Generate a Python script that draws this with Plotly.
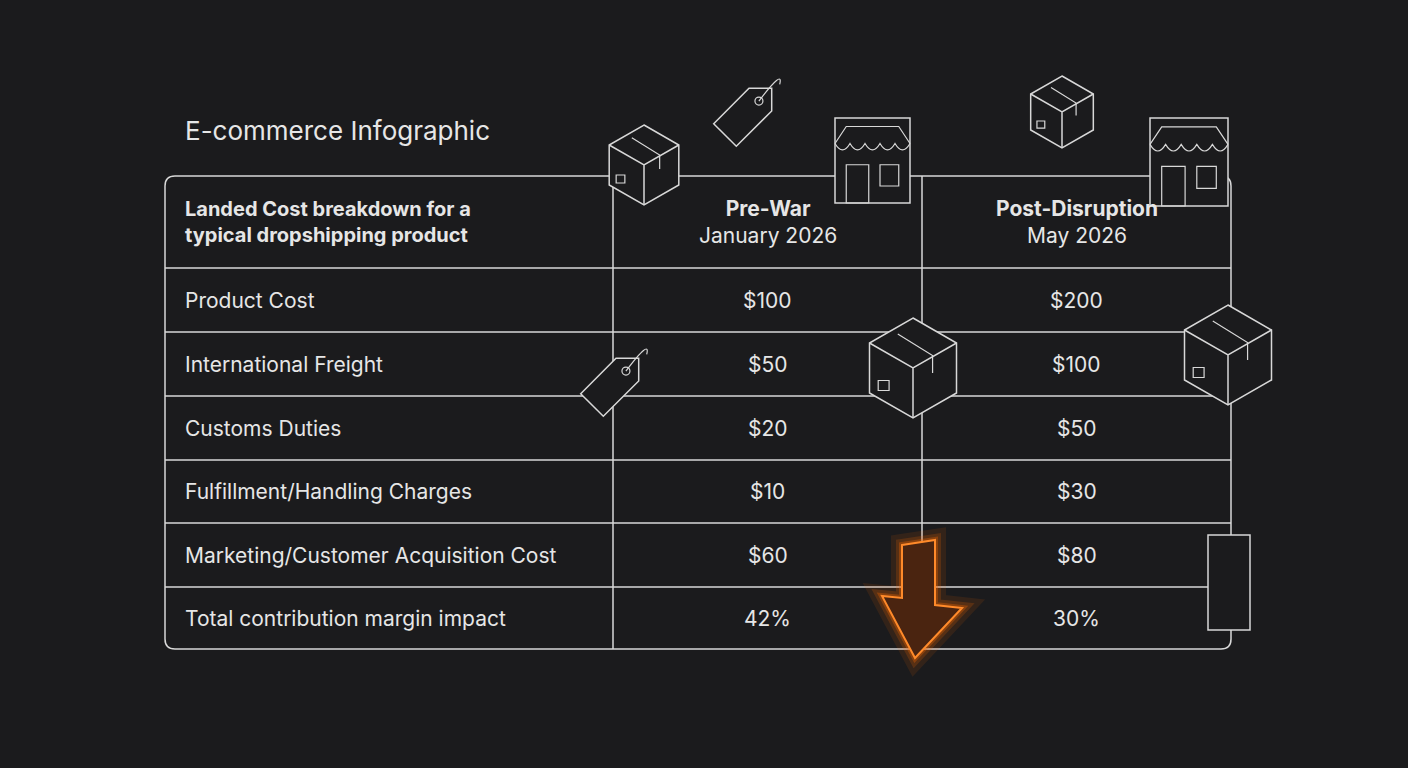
import math
import plotly.graph_objects as go

title = "E-commerce Infographic"
header_label = "<b>Landed Cost breakdown for a<br>typical dropshipping product</b>"
col_heads = ["<b>Pre-War</b><br>January 2026", "<b>Post-Disruption</b><br>May 2026"]
rows = ["Product Cost", "International Freight", "Customs Duties",
        "Fulfillment/Handling Charges", "Marketing/Customer Acquisition Cost",
        "Total contribution margin impact"]
pre = ["$100", "$50", "$20", "$10", "$60", "42%"]
post = ["$200", "$100", "$50", "$30", "$80", "30%"]

BG = "#1b1b1d"
LINE = "#d8d8d8"
TXT = "#e6e6e6"
L, R, T, B = 165, 1231, 176, 649
cols = [L, 613, 922, R]
ys = [T, 268, 332, 396, 460, 523, 587, B]

fig = go.Figure(go.Scatter(x=[0], y=[0], mode="markers", marker=dict(opacity=0), hoverinfo="skip"))
shapes = []
r = 10
shapes.append(dict(type="path", line=dict(color=LINE, width=1.5),
    path=f"M{L+r},{T} L{R-r},{T} Q{R},{T} {R},{T+r} L{R},{B-r} Q{R},{B} {R-r},{B} "
         f"L{L+r},{B} Q{L},{B} {L},{B-r} L{L},{T+r} Q{L},{T} {L+r},{T} Z"))
for y in ys[1:-1]:
    shapes.append(dict(type="line", x0=L, x1=R, y0=y, y1=y, line=dict(color=LINE, width=1.5)))
for x in cols[1:-1]:
    shapes.append(dict(type="line", x0=x, x1=x, y0=T, y1=B, line=dict(color=LINE, width=1.5)))

def cube(cx, cy, s):
    k = 0.87 * s
    pts = [(cx, cy - s), (cx + k, cy - s / 2), (cx + k, cy + s / 2), (cx, cy + s),
           (cx - k, cy + s / 2), (cx - k, cy - s / 2)]
    p = "M" + " L".join(f"{a},{b}" for a, b in pts) + " Z"
    shapes.append(dict(type="path", path=p, fillcolor=BG, line=dict(color=LINE, width=1.5)))
    shapes.append(dict(type="path", path=f"M{cx-k},{cy-s/2} L{cx},{cy} L{cx+k},{cy-s/2} M{cx},{cy} L{cx},{cy+s}",
                       line=dict(color=LINE, width=1.5)))
    shapes.append(dict(type="path", path=f"M{cx-k*0.35},{cy-s*0.68} L{cx+k*0.45},{cy-s*0.25} L{cx+k*0.45},{cy+s*0.1}",
                       line=dict(color=LINE, width=1.2)))
    shapes.append(dict(type="rect", x0=cx - k * 0.8, x1=cx - k * 0.55, y0=cy + s * 0.25, y1=cy + s * 0.45,
                       line=dict(color=LINE, width=1.2)))

def tag(x, y, length, h, ang_deg):
    a = math.radians(ang_deg)
    ux, uy = math.cos(a), -math.sin(a)
    vx, vy = -uy, ux
    loc = [(0, -h / 2), (length, -h / 2), (length + h * 0.5, 0), (length, h / 2), (0, h / 2)]
    pts = [(x + u * ux + v * vx, y + u * uy + v * vy) for u, v in loc]
    p = "M" + " L".join(f"{px:.1f},{py:.1f}" for px, py in pts) + " Z"
    shapes.append(dict(type="path", path=p, fillcolor=BG, line=dict(color=LINE, width=1.5)))
    hx, hy = x + (length - 2) * ux, y + (length - 2) * uy
    shapes.append(dict(type="circle", x0=hx - 4, x1=hx + 4, y0=hy - 4, y1=hy + 4, line=dict(color=LINE, width=1.2)))
    ex, ey = x + (length + h * 0.5) * ux, y + (length + h * 0.5) * uy
    shapes.append(dict(type="path", path=f"M{hx:.1f},{hy:.1f} Q{ex+12:.1f},{ey-20:.1f} {ex+8:.1f},{ey-4:.1f}",
                       line=dict(color=LINE, width=1.2)))

def store(x, y, w, h):
    shapes.append(dict(type="rect", x0=x, x1=x + w, y0=y, y1=y + h, fillcolor=BG, line=dict(color=LINE, width=1.5)))
    aw = w / 5
    scallop = f"M{x},{y+h*0.3}" + "".join(
        f" Q{x+aw*i+aw/2},{y+h*0.45} {x+aw*(i+1)},{y+h*0.3}" for i in range(5))
    shapes.append(dict(type="path", path=scallop + f" M{x},{y+h*0.3} L{x+w*0.15},{y+h*0.1} L{x+w*0.85},{y+h*0.1} L{x+w},{y+h*0.3}",
                       line=dict(color=LINE, width=1.2)))
    shapes.append(dict(type="rect", x0=x + w * 0.15, x1=x + w * 0.45, y0=y + h * 0.55, y1=y + h, line=dict(color=LINE, width=1.2)))
    shapes.append(dict(type="rect", x0=x + w * 0.6, x1=x + w * 0.85, y0=y + h * 0.55, y1=y + h * 0.8, line=dict(color=LINE, width=1.2)))

cube(644, 165, 40)
cube(1062, 112, 36)
cube(913, 368, 50)
cube(1228, 355, 50)
store(835, 118, 75, 85)
store(1150, 118, 78, 88)
tag(725, 135, 50, 32, 45)
tag(592, 405, 50, 32, 45)
shapes.append(dict(type="rect", x0=1208, x1=1250, y0=535, y1=630, fillcolor=BG, line=dict(color=LINE, width=1.5)))

# orange arrow with glow
arrow = "M902,545 L935,540 L935,605 L962,608 L915,658 L882,596 L902,598 Z"
for w, op in [(22, 0.10), (12, 0.18), (6, 0.3)]:
    shapes.append(dict(type="path", path=arrow, line=dict(color="#ff6a00", width=w), opacity=op))
shapes.append(dict(type="path", path=arrow, fillcolor="#4a2410", line=dict(color="#ff8a2a", width=2)))

ann = [dict(x=183, y=130, text=title, xanchor="left", font=dict(size=26, color=TXT))]
ann.append(dict(x=183, y=222, text=header_label, xanchor="left", align="left", font=dict(size=20, color=TXT)))
for i, h in enumerate(col_heads):
    ann.append(dict(x=(cols[i + 1] + cols[i + 2]) / 2, y=222, text=h, font=dict(size=21, color=TXT)))
for i, lab in enumerate(rows):
    yc = (ys[i + 1] + ys[i + 2]) / 2
    ann.append(dict(x=183, y=yc, text=lab, xanchor="left", font=dict(size=21, color=TXT)))
    ann.append(dict(x=(cols[1] + cols[2]) / 2, y=yc, text=pre[i], font=dict(size=21, color=TXT)))
    ann.append(dict(x=(cols[2] + cols[3]) / 2, y=yc, text=post[i], font=dict(size=21, color=TXT)))
for a in ann:
    a.update(showarrow=False, xref="x", yref="y", yanchor="middle")
    a["font"]["family"] = "Inter, Roboto, sans-serif"

fig.update_layout(width=1408, height=768, margin=dict(l=0, r=0, t=0, b=0),
                  paper_bgcolor=BG, plot_bgcolor=BG, shapes=shapes, annotations=ann, showlegend=False,
                  xaxis=dict(range=[0, 1408], visible=False, fixedrange=True),
                  yaxis=dict(range=[768, 0], visible=False, fixedrange=True))
fig.write_html("out.html", config={"displayModeBar": False},
               post_script="document.body.style.margin='0';document.body.style.background='#1b1b1d';")
